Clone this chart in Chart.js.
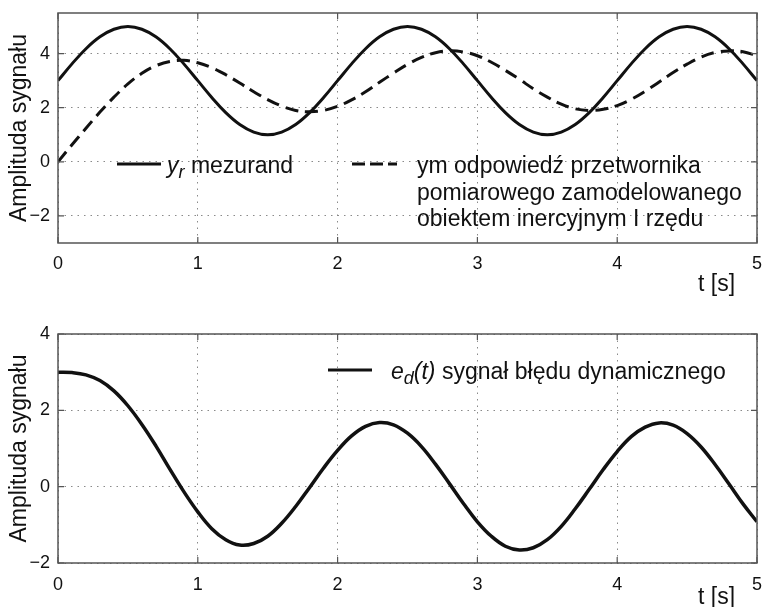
<!DOCTYPE html>
<html lang="pl">
<head>
    <meta charset="UTF-8">
    <script src="https://cdn.jsdelivr.net/npm/chart.js@4.4.0/dist/chart.umd.min.js"></script>
    <style>
        body {
            margin: 0;
            background: #fff;
        }

        .plot {
            position: absolute;
            left: 0;
            width: 762px;
        }
    </style>
    <title>Błąd dynamiczny</title>
</head>
<body>
    <div class="plot" style="top: 0; height: 300px;">
        <canvas id="topChart" width="762" height="300"></canvas>
    </div>
    <div class="plot" style="top: 300px; height: 307px;">
        <canvas id="bottomChart" width="762" height="307"></canvas>
    </div>

    <script>
        // values, every 0.1 s
        const timeValues = [
            0.0, 0.1, 0.2, 0.3, 0.4, 0.5, 0.6, 0.7, 0.8, 0.9,
            1.0, 1.1, 1.2, 1.3, 1.4, 1.5, 1.6, 1.7, 1.8, 1.9,
            2.0, 2.1, 2.2, 2.3, 2.4, 2.5, 2.6, 2.7, 2.8, 2.9,
            3.0, 3.1, 3.2, 3.3, 3.4, 3.5, 3.6, 3.7, 3.8, 3.9,
            4.0, 4.1, 4.2, 4.3, 4.4, 4.5, 4.6, 4.7, 4.8, 4.9, 5.0
        ];
        const measurandValues = [
            3.00, 3.62, 4.18, 4.62, 4.90, 5.00, 4.90, 4.62, 4.18, 3.62,
            3.00, 2.38, 1.82, 1.38, 1.10, 1.00, 1.10, 1.38, 1.82, 2.38,
            3.00, 3.62, 4.18, 4.62, 4.90, 5.00, 4.90, 4.62, 4.18, 3.62,
            3.00, 2.38, 1.82, 1.38, 1.10, 1.00, 1.10, 1.38, 1.82, 2.38,
            3.00, 3.62, 4.18, 4.62, 4.90, 5.00, 4.90, 4.62, 4.18, 3.62, 3.00
        ];
        const responseValues = [
            0.00, 0.63, 1.24, 1.84, 2.39, 2.88, 3.27, 3.55, 3.71, 3.75,
            3.66, 3.48, 3.22, 2.91, 2.59, 2.30, 2.06, 1.90, 1.85, 1.90,
            2.05, 2.29, 2.59, 2.94, 3.28, 3.60, 3.86, 4.03, 4.10, 4.06,
            3.92, 3.68, 3.38, 3.05, 2.70, 2.39, 2.13, 1.96, 1.90, 1.94,
            2.08, 2.31, 2.61, 2.95, 3.30, 3.61, 3.87, 4.04, 4.10, 4.07, 3.92
        ];
        const errorValues = [
            3.00, 2.99, 2.93, 2.78, 2.51, 2.12, 1.63, 1.07, 0.46, -0.13,
            -0.66, -1.10, -1.39, -1.53, -1.49, -1.30, -0.96, -0.52, -0.02, 0.49,
            0.95, 1.33, 1.58, 1.68, 1.62, 1.40, 1.05, 0.59, 0.08, -0.44,
            -0.92, -1.30, -1.56, -1.66, -1.60, -1.39, -1.04, -0.58, -0.07, 0.45,
            0.92, 1.31, 1.56, 1.67, 1.61, 1.39, 1.04, 0.58, 0.07, -0.45, -0.92
        ];

        const xTicks = [0, 1, 2, 3, 4, 5];
        const yTicksTop = [-2, 0, 2, 4];
        const yTicksBottom = [-2, 0, 2, 4];

        const FONT = '"Liberation Sans", Arial, Helvetica, sans-serif';
        const INK = '#111';

        function points(ys) {
            return timeValues.map((t, i) => ({ x: t, y: ys[i] }));
        }

        // draws a row of text pieces; some italic, some lowered as subscript
        function drawRuns(ctx, x, y, runs, size) {
            runs.forEach(r => {
                const fs = r.sub ? Math.round(size * 0.8) : size;
                ctx.font = `${r.italic ? 'italic ' : ''}${fs}px ${FONT}`;
                ctx.fillText(r.text, x, r.sub ? y + size * 0.22 : y);
                x += ctx.measureText(r.text).width;
            });
        }

        // no label padding: the plot box is set by layout.padding alone
        function noPadding(s) {
            s.paddingLeft = 0;
            s.paddingRight = 0;
            s.paddingTop = 0;
            s.paddingBottom = 0;
        }

        // box around the plot, inward ticks, legend and the t [s] label
        const framePlugin = {
            id: 'frame',
            afterDraw(chart, args, opts) {
                const { ctx, chartArea: a, scales } = chart;
                ctx.save();

                ctx.strokeStyle = '#555';
                ctx.lineWidth = 1.5;
                ctx.strokeRect(a.left, a.top, a.right - a.left, a.bottom - a.top);

                ctx.lineWidth = 1.2;
                ctx.beginPath();
                scales.x.ticks.forEach(t => {
                    const px = scales.x.getPixelForValue(t.value);
                    ctx.moveTo(px, a.bottom); ctx.lineTo(px, a.bottom - 6);
                    ctx.moveTo(px, a.top); ctx.lineTo(px, a.top + 6);
                });
                scales.y.ticks.forEach(t => {
                    const py = scales.y.getPixelForValue(t.value);
                    ctx.moveTo(a.left, py); ctx.lineTo(a.left + 6, py);
                    ctx.moveTo(a.right, py); ctx.lineTo(a.right - 6, py);
                });
                ctx.stroke();

                ctx.fillStyle = INK;
                ctx.textBaseline = 'alphabetic';
                ctx.font = `23px ${FONT}`;
                ctx.fillText('t [s]', opts.xLabel.x, opts.xLabel.y);

                opts.legend.forEach(item => {
                    ctx.strokeStyle = INK;
                    ctx.lineWidth = 3;
                    ctx.setLineDash(item.dash || []);
                    ctx.beginPath();
                    ctx.moveTo(item.x0, item.y);
                    ctx.lineTo(item.x1, item.y);
                    ctx.stroke();
                    ctx.setLineDash([]);
                    item.lines.forEach((runs, i) => {
                        drawRuns(ctx, item.tx, item.y + 9 + i * 26.5, runs, 23);
                    });
                });

                ctx.restore();
            }
        };

        function buildChart(canvasId, datasets, yMin, yMax, yTicks, layout, frameOpts) {
            const ctx = document.getElementById(canvasId).getContext('2d');
            return new Chart(ctx, {
                type: 'line',
                data: { datasets: datasets },
                options: {
                    responsive: false,
                    animation: false,
                    events: [],
                    layout: { autoPadding: false, padding: layout.padding },
                    elements: { point: { radius: 0 }, line: { tension: 0.4 } },
                    plugins: {
                        legend: { display: false },
                        tooltip: { enabled: false },
                        frame: frameOpts
                    },
                    scales: {
                        x: {
                            type: 'linear',
                            min: 0,
                            max: 5,
                            afterBuildTicks: s => { s.ticks = xTicks.map(v => ({ value: v })); },
                            afterFit: s => { s.height = layout.xHeight; noPadding(s); },
                            grid: { color: '#8a8a8a', lineWidth: 1, drawTicks: false },
                            border: { display: false, dash: [1.5, 5] },
                            ticks: {
                                color: INK,
                                padding: layout.xPad,
                                maxRotation: 0,
                                autoSkip: false,
                                font: { family: FONT, size: 18 }
                            }
                        },
                        y: {
                            min: yMin,
                            max: yMax,
                            afterBuildTicks: s => { s.ticks = yTicks.map(v => ({ value: v })); },
                            afterFit: s => { s.width = 58; noPadding(s); },
                            grid: { color: '#8a8a8a', lineWidth: 1, drawTicks: false },
                            border: { display: false, dash: [1.5, 5] },
                            ticks: {
                                color: INK,
                                padding: 8,
                                font: { family: FONT, size: 18 },
                                callback: v => String(v).replace('-', '\u2212')
                            },
                            title: {
                                display: true,
                                text: 'Amplituda sygnału',
                                color: INK,
                                padding: { top: 6, bottom: 0 },
                                font: { family: FONT, size: 23 }
                            }
                        }
                    }
                },
                plugins: [framePlugin]
            });
        }

        buildChart('topChart', [
            {
                data: points(measurandValues),
                borderColor: INK,
                borderWidth: 3,
                fill: false
            },
            {
                data: points(responseValues),
                borderColor: INK,
                borderWidth: 3,
                borderDash: [13, 7],
                fill: false
            }
        ], -3, 5.5, yTicksTop,
        { padding: { top: 13, right: 5, bottom: 0, left: 0 }, xHeight: 57, xPad: 10 },
        {
            xLabel: { x: 698, y: 291 },
            legend: [
                {
                    x0: 117, x1: 161, y: 164, tx: 167,
                    lines: [[
                        { text: 'y', italic: true },
                        { text: 'r', italic: true, sub: true },
                        { text: ' mezurand' }
                    ]]
                },
                {
                    x0: 352, x1: 397, y: 164, tx: 417, dash: [13, 5],
                    lines: [
                        [{ text: 'ym odpowiedź przetwornika' }],
                        [{ text: 'pomiarowego zamodelowanego' }],
                        [{ text: 'obiektem inercyjnym I rzędu' }]
                    ]
                }
            ]
        });

        buildChart('bottomChart', [
            {
                data: points(errorValues),
                borderColor: INK,
                borderWidth: 3.5,
                fill: false
            }
        ], -2, 4, yTicksBottom,
        { padding: { top: 34, right: 5, bottom: 0, left: 0 }, xHeight: 44, xPad: 11 },
        {
            xLabel: { x: 698, y: 304 },
            legend: [
                {
                    x0: 328, x1: 372, y: 70, tx: 391,
                    lines: [[
                        { text: 'e', italic: true },
                        { text: 'd', italic: true, sub: true },
                        { text: '(t)', italic: true },
                        { text: ' sygnał błędu dynamicznego' }
                    ]]
                }
            ]
        });
    </script>
</body>
</html>
